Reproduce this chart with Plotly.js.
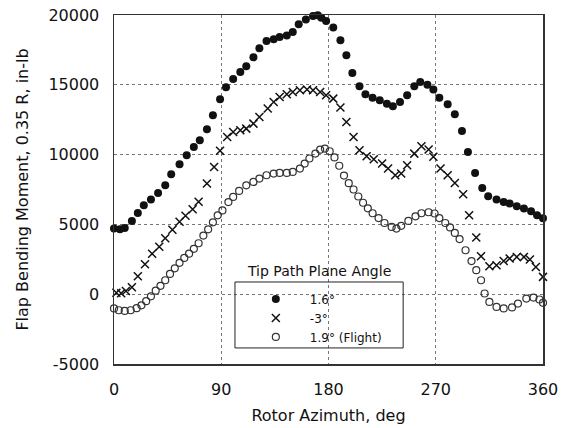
<!DOCTYPE html>
<html>
<head>
<meta charset="utf-8">
<script src="https://cdn.plot.ly/plotly-3.0.1.min.js"></script>
<style>html,body{margin:0;padding:0;background:#fff;}#chart{width:565px;height:428px;}</style>
</head>
<body>
<div id="chart"></div>
<script>
// Series 1: 1.6 deg (filled circles)
const azFilled = [0,5,9,15,20,25,31,37,43,48,55,61,67,72,78,83,89,94,100,106,111,117,122,128,134,139,145,150,155,161,167,171,174,178,184,190,195,200,206,211,217,223,229,234,240,246,252,257,263,268,273,280,286,292,297,303,309,314,321,327,332,338,344,350,355,360];
const momFilled = [4700,4650,4750,5250,5820,6370,6780,7250,7800,8590,9310,9950,10550,11030,11810,12820,13960,14820,15420,15920,16320,16970,17610,18140,18260,18420,18540,18780,19330,19670,19930,19980,19810,19570,19100,18190,17110,15850,14890,14320,14080,13890,13650,13460,13770,14250,14890,15200,15010,14660,14080,13600,12890,11690,10190,8690,7610,7020,6780,6610,6490,6300,6140,5940,5660,5440];

// Series 2: -3 deg (x markers)
const azCross = [2,6,10,15,20,26,32,38,43,49,55,60,66,71,78,84,89,95,100,106,111,117,122,129,134,139,145,150,156,162,167,173,178,184,190,195,201,206,212,218,225,230,236,241,246,252,258,264,268,274,280,286,293,298,304,308,315,321,327,332,338,344,349,354,360];
const momCross = [107,72,236,500,1290,2150,2900,3400,4010,4620,5190,5620,6090,6620,7930,9110,10270,11260,11620,11740,11860,12220,12690,13300,13770,14130,14320,14480,14610,14660,14610,14480,14250,14010,13370,12340,11260,10310,9880,9670,9360,9000,8520,8640,9240,10070,10600,10360,9850,9000,8520,7970,7160,5660,4060,2720,2000,2080,2380,2560,2670,2670,2480,1950,1240];

// Series 3: 1.9 deg (Flight) (open circles)
const azOpen = [0,4,9,14,19,23,27,31,35,39,43,47,51,55,59,63,67,71,75,79,83,87,91,96,100,105,111,117,122,128,134,139,145,150,156,160,164,169,173,177,181,185,189,193,197,201,205,209,213,217,222,227,233,237,241,247,253,258,264,269,273,278,282,286,290,295,300,304,308,311,315,321,327,334,339,346,352,357,360];
const momOpen = [-1020,-1150,-1200,-1150,-1000,-800,-500,-150,250,600,1000,1450,1850,2250,2600,2900,3250,3650,4200,4650,5150,5650,6000,6600,6970,7400,7800,8040,8280,8520,8640,8690,8690,8760,9000,9360,9720,10070,10350,10430,10240,9800,9200,8500,7950,7500,7000,6550,6150,5800,5450,5100,4820,4700,4900,5250,5580,5800,5870,5780,5450,5100,4780,4390,3950,3150,2370,1720,1000,50,-550,-910,-1020,-950,-670,-310,-240,-380,-620];

const seriesNames = ['1.6°', '-3°', '1.9° (Flight)'];
const legendTitle = 'Tip Path Plane Angle';
const xTicks = [0, 90, 180, 270, 360];
const yTicks = [-5000, 0, 5000, 10000, 15000, 20000];

const FONT = 'DejaVu Sans, Liberation Sans, Arial, sans-serif';

const traces = [
  {x: azFilled, y: momFilled, name: seriesNames[0], mode: 'markers', type: 'scatter', cliponaxis: false,
   marker: {symbol: 'circle', size: 8, color: '#111'}},
  {x: azCross, y: momCross, name: seriesNames[1], mode: 'markers', type: 'scatter', cliponaxis: false,
   marker: {symbol: 'x-thin-open', size: 8, color: '#111', line: {color: '#111', width: 1.5}}},
  {x: azOpen, y: momOpen, name: seriesNames[2], mode: 'markers', type: 'scatter', cliponaxis: false,
   marker: {symbol: 'circle-open', size: 7, color: '#333', line: {color: '#333', width: 1.2}}}
];

const layout = {
  width: 565, height: 428,
  margin: {l: 114, r: 22, t: 15, b: 64},
  paper_bgcolor: '#fff', plot_bgcolor: '#fff',
  font: {family: FONT, color: '#111', size: 16},
  showlegend: true,
  legend: {
    x: 0.298, y: 0.228, xanchor: 'left', yanchor: 'top',
    bgcolor: 'rgba(0,0,0,0)', borderwidth: 0,
    font: {family: FONT, size: 12, color: '#111'},
    itemwidth: 58, tracegroupgap: 0
  },
  xaxis: {
    range: [0, 360], tickvals: xTicks, ticktext: xTicks.map(String),
    showgrid: true, gridcolor: '#777', griddash: 'dot', gridwidth: 1,
    zeroline: false, showline: true, mirror: true, linecolor: '#333', linewidth: 1.5,
    ticks: '', ticklabelstandoff: 10,
    tickfont: {family: FONT, size: 16, color: '#111'},
    title: {text: 'Rotor Azimuth, deg', font: {family: FONT, size: 16, color: '#111'}, standoff: 12}
  },
  yaxis: {
    range: [-5000, 20000], tickvals: yTicks, ticktext: yTicks.map(String),
    showgrid: true, gridcolor: '#777', griddash: 'dot', gridwidth: 1,
    zeroline: false, showline: true, mirror: true, linecolor: '#333', linewidth: 1.5,
    ticks: '', ticklabelstandoff: 10,
    tickfont: {family: FONT, size: 16, color: '#111'},
    title: {text: 'Flap Bending Moment, 0.35 R, in-lb', font: {family: FONT, size: 16, color: '#111'}, standoff: 16}
  },
  shapes: [
    {type: 'rect', xref: 'paper', yref: 'paper', x0: 0.282, x1: 0.674, y0: 0.046, y1: 0.235,
     line: {color: '#222', width: 1}, fillcolor: 'rgba(0,0,0,0)', layer: 'above'}
  ],
  annotations: [
    {text: legendTitle, xref: 'paper', yref: 'paper', x: 0.479, y: 0.235, xanchor: 'center', yanchor: 'bottom',
     showarrow: false, font: {family: FONT, size: 14, color: '#111'}, yshift: 1}
  ]
};

Plotly.newPlot('chart', traces, layout, {displayModeBar: false, staticPlot: true});
</script>
</body>
</html>
